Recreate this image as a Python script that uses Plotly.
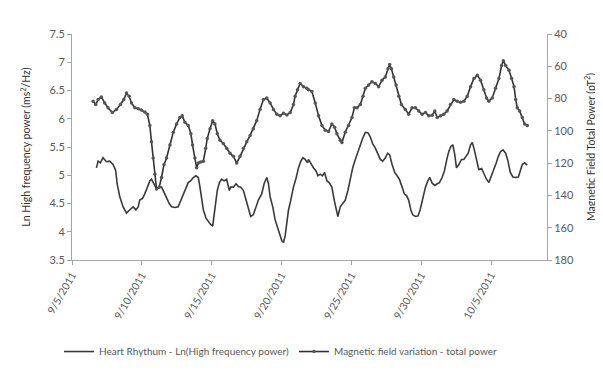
import pandas as pd
import plotly.graph_objects as go

START = "2011-09-05"

# Heart rhythm: Ln(High frequency power), days since 9/5/2011
hf_days = [1.75, 1.87, 2.03, 2.22, 2.46, 2.70, 2.94, 3.13, 3.23, 3.42, 3.66, 3.90, 4.14, 4.38, 4.57, 4.74,
           4.85, 5.05, 5.21, 5.40, 5.57, 5.69, 5.86, 6.05, 6.24, 6.41, 6.58, 6.77, 6.96, 7.13, 7.37, 7.60,
           7.80, 7.96, 8.15, 8.32, 8.49, 8.68, 8.87, 9.04, 9.16, 9.28, 9.40, 9.59, 9.76, 9.92, 10.07, 10.16,
           10.31, 10.40, 10.55, 10.71, 10.88, 11.07, 11.26, 11.36, 11.55, 11.74, 11.91, 12.08, 12.27, 12.46,
           12.63, 12.79, 12.98, 13.18, 13.34, 13.58, 13.75, 13.94, 14.06, 14.18, 14.37, 14.54, 14.71, 14.85,
           15.02, 15.14, 15.26, 15.38, 15.50, 15.66, 15.85, 16.05, 16.21, 16.38, 16.52, 16.69, 16.86,
           16.93, 17.12, 17.29, 17.46, 17.60, 17.77, 17.93, 18.08, 18.25, 18.41, 18.60, 18.77, 18.89, 19.03,
           19.20, 19.37, 19.56, 19.75, 19.92, 20.09, 20.28, 20.47, 20.64, 20.80, 21.00, 21.19, 21.35, 21.52,
           21.71, 21.90, 22.07, 22.24, 22.43, 22.60, 22.74, 22.91, 23.10, 23.27, 23.43, 23.63, 23.79, 23.94,
           24.10, 24.25, 24.39, 24.58, 24.77, 24.92, 25.11, 25.30, 25.47, 25.61, 25.78, 25.97, 26.14, 26.30,
           26.49, 26.66, 26.83, 26.97, 27.12, 27.26, 27.40, 27.52, 27.69, 27.88, 28.05, 28.22, 28.36, 28.53,
           28.65, 28.77, 28.93, 29.12, 29.32, 29.48, 29.67, 29.84, 30.03, 30.20, 30.37, 30.51, 30.68, 30.85,
           31.04, 31.21, 31.37, 31.56, 31.76, 31.95, 32.09, 32.23, 32.40, 32.59]
hf_values = [5.13, 5.25, 5.22, 5.31, 5.24, 5.25, 5.19, 5.08, 4.85, 4.62, 4.44, 4.33, 4.39, 4.44, 4.39, 4.44,
             4.56, 4.59, 4.67, 4.79, 4.90, 4.93, 4.85, 4.76, 4.79, 4.79, 4.70, 4.59, 4.50, 4.44, 4.43, 4.44,
             4.56, 4.67, 4.79, 4.87, 4.90, 4.96, 4.99, 4.96, 4.79, 4.56, 4.39, 4.24, 4.18, 4.13, 4.10, 4.27,
             4.56, 4.73, 4.87, 4.93, 4.90, 4.93, 4.73, 4.79, 4.79, 4.85, 4.80, 4.79, 4.73, 4.56,
             4.39, 4.27, 4.30, 4.44, 4.56, 4.67, 4.85, 4.96, 4.85, 4.62, 4.44, 4.21, 4.07, 3.95,
             3.84, 3.81, 3.93, 4.16, 4.39, 4.56, 4.79, 4.96, 5.13, 5.25, 5.31, 5.28, 5.22,
             5.28, 5.19, 5.13, 5.08, 4.99, 5.02, 4.99, 5.05, 4.90, 4.87, 4.79, 4.56, 4.44, 4.27,
             4.44, 4.50, 4.56, 4.73, 4.96, 5.13, 5.28, 5.42, 5.51, 5.65, 5.76, 5.75, 5.68, 5.56,
             5.48, 5.36, 5.28, 5.25, 5.31, 5.39, 5.36, 5.19, 5.05, 4.99, 4.93, 4.79, 4.67, 4.64,
             4.56, 4.39, 4.30, 4.27, 4.28, 4.39, 4.62, 4.79, 4.90, 4.96, 4.86, 4.82, 4.85, 4.87,
             4.96, 5.08, 5.28, 5.42, 5.51, 5.54, 5.36, 5.13, 5.19, 5.28, 5.28, 5.33, 5.39, 5.54,
             5.58, 5.48, 5.31, 5.10, 5.12, 5.02, 4.93, 4.87, 4.99, 5.10, 5.22, 5.33, 5.42, 5.45,
             5.39, 5.25, 5.05, 4.97, 4.96, 4.97, 5.08, 5.19, 5.22, 5.18]

# Magnetic field variation: total power (pT^2), days since 9/5/2011
mag_days = [1.51, 1.70, 1.87, 2.10, 2.34, 2.58, 2.89, 3.18, 3.47, 3.71, 3.90, 4.09, 4.26, 4.50, 4.74, 4.97,
            5.21, 5.40, 5.57, 5.69, 5.81, 5.93, 6.05, 6.24, 6.41, 6.58, 6.77, 7.01, 7.25, 7.49, 7.72, 7.89,
            8.08, 8.32, 8.51, 8.63, 8.80, 8.92, 9.04, 9.21, 9.40, 9.57, 9.68, 9.88, 10.07, 10.23, 10.40, 10.59,
            10.83, 11.07, 11.31, 11.55, 11.79, 12.03, 12.27, 12.51, 12.75, 12.98, 13.22, 13.46, 13.70, 13.94,
            14.18, 14.42, 14.66, 14.90, 15.14, 15.38, 15.62, 15.85, 15.97, 16.14, 16.33, 16.57, 16.81,
            16.93, 17.17, 17.41, 17.65, 17.89, 18.13, 18.36, 18.60, 18.80, 18.96, 19.20, 19.32, 19.56, 19.80,
            20.04, 20.21, 20.40, 20.64, 20.83, 21.00, 21.23, 21.47, 21.71, 21.95, 22.19, 22.43, 22.62, 22.74,
            22.86, 23.03, 23.20, 23.39, 23.58, 23.86, 24.10, 24.34, 24.58, 24.82, 25.06, 25.30, 25.54, 25.78,
            25.97, 26.14, 26.38, 26.61, 26.85, 27.09, 27.33, 27.57, 27.81, 28.05, 28.29, 28.53, 28.77, 29.01,
            29.24, 29.48, 29.67, 29.84, 30.08, 30.32, 30.56, 30.75, 30.87, 31.04, 31.28, 31.47, 31.64, 31.76,
            31.87, 32.04, 32.23, 32.40, 32.59]
mag_values = [81.6, 83.7, 80.6, 79.0, 82.7, 85.7, 88.7, 86.7, 83.7, 80.6, 76.6, 78.6, 82.7, 85.7, 86.3, 87.1,
              88.3, 89.7, 96.7, 106.8, 116.8, 126.9, 136.0, 134.9, 128.9, 120.9, 116.8, 108.8, 100.8, 95.7, 91.7, 90.7,
              94.7, 96.7, 101.8, 108.8, 116.8, 122.9, 119.9, 119.3, 118.9, 110.8, 104.8, 98.7, 93.7, 95.7, 101.8, 105.8,
              107.8, 110.8, 113.8, 115.8, 119.9, 115.8, 110.8, 106.8, 102.8, 98.7, 93.7, 86.7, 80.6, 79.6,
              82.7, 86.7, 89.7, 90.7, 89.1, 90.1, 88.7, 83.7, 78.6, 74.6, 70.6, 72.6, 73.6,
              74.6, 75.6, 82.7, 90.7, 96.7, 99.7, 100.4, 95.7, 97.7, 101.8, 105.8, 107.2, 100.8, 96.7,
              91.7, 85.7, 85.7, 83.7, 78.6, 73.6, 71.6, 69.6, 70.6, 72.6, 68.6, 66.6, 61.5, 58.9,
              61.5, 66.6, 71.6, 78.6, 83.7, 86.7, 89.7, 85.7, 85.7, 87.7, 89.7, 88.7, 90.7, 90.3,
              87.7, 91.7, 90.7, 89.7, 87.7, 83.7, 80.6, 81.6, 82.3, 81.6, 78.6, 72.6, 67.6, 65.6,
              68.6, 74.6, 79.6, 81.6, 79.6, 73.6, 67.6, 59.5, 56.5, 59.5, 62.5, 67.6, 72.6, 80.6,
              85.7, 87.7, 91.7, 95.7, 96.7]

tick_dates = ["2011-09-05", "2011-09-10", "2011-09-15", "2011-09-20", "2011-09-25", "2011-09-30", "2011-10-05"]
tick_labels = ["9/5/2011", "9/10/2011", "9/15/2011", "9/20/2011", "9/25/2011", "9/30/2011", "10/5/2011"]

t0 = pd.Timestamp(START)
hf_x = [t0 + pd.Timedelta(days=d) for d in hf_days]
mag_x = [t0 + pd.Timedelta(days=d) for d in mag_days]

FONT = "Lato, 'Liberation Sans', sans-serif"
GREY = "#595959"
AXIS = "#a6a6a6"
LINE = "#3a3a3a"

fig = go.Figure()
fig.add_trace(go.Scatter(
    x=hf_x, y=hf_values, mode="lines",
    name="Heart Rhythum - Ln(High frequency power)",
    line=dict(color=LINE, width=1.6),
))
fig.add_trace(go.Scatter(
    x=mag_x, y=mag_values, mode="lines+markers", yaxis="y2",
    name="Magnetic field variation - total power",
    line=dict(color="#333333", width=1.6),
    marker=dict(size=3.5, color="#555555", symbol="circle"),
))

fig.update_layout(
    width=603, height=370,
    margin=dict(l=64, r=64, t=26, b=112),
    paper_bgcolor="white", plot_bgcolor="white",
    font=dict(family=FONT, size=11, color=GREY),
    showlegend=True,
    legend=dict(orientation="h", x=0.44, xanchor="center", y=-0.405, yanchor="middle",
                font=dict(size=10, color=GREY), itemwidth=30, tracegroupgap=0,
                bgcolor="rgba(0,0,0,0)"),
    xaxis=dict(
        type="date", range=["2011-09-05", "2011-10-09"],
        tickvals=tick_dates, ticktext=tick_labels, tickangle=-60,
        showgrid=False, zeroline=False, showline=True, linecolor=AXIS, linewidth=1,
        ticks="outside", ticklen=4, tickcolor=AXIS,
        tickfont=dict(size=10.5, color=GREY),
    ),
    yaxis=dict(
        range=[3.5, 7.5], dtick=0.5, tick0=3.5,
        showgrid=False, zeroline=False, showline=True, linecolor=AXIS, linewidth=1,
        ticks="outside", ticklen=4, tickcolor=AXIS,
        tickfont=dict(size=11, color=GREY),
        title=dict(text="Ln High frequency power (ms<sup>2</sup>/Hz)", font=dict(size=10.5, color="#333333"), standoff=16),
    ),
    yaxis2=dict(
        range=[180, 40], dtick=20, tick0=40, overlaying="y", side="right",
        showgrid=False, zeroline=False, showline=True, linecolor=AXIS, linewidth=1,
        ticks="outside", ticklen=4, tickcolor=AXIS,
        tickfont=dict(size=11, color=GREY),
        title=dict(text="Magnetic Field Total Power (pT<sup>2</sup>)", font=dict(size=10.5, color="#333333"), standoff=14),
    ),
)

fig.write_html("out.html")
